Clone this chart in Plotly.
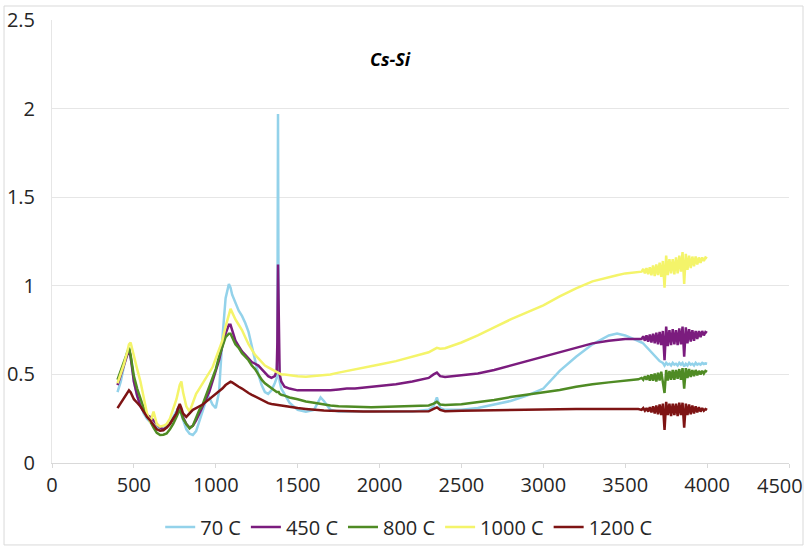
import plotly.graph_objects as go

# Wavenumber grid (cm-1)
wn_low = [400, 420, 440, 460, 470, 480, 490, 500, 520, 540, 560, 580, 600, 620, 640, 660, 680, 700, 720, 740,
          760, 770, 780, 790, 800, 820, 840, 860, 880, 900, 920, 940, 960, 980, 1000, 1020, 1040, 1060, 1080, 1090,
          1100, 1120, 1140, 1160, 1180, 1200, 1220, 1240, 1260, 1280, 1300, 1320, 1340, 1360, 1372, 1376, 1380, 1384, 1390, 1400]
wn_mid = [1420, 1450, 1500, 1550, 1600, 1640, 1660, 1700, 1750, 1800, 1850, 1900, 1950, 2000, 2100, 2200, 2300, 2330, 2350, 2370,
          2400, 2500, 2600, 2700, 2800, 2900, 3000, 3100, 3200, 3300, 3400, 3450, 3500, 3550, 3580]
wn_high = [3600, 3610, 3620, 3630, 3640, 3650, 3660, 3670, 3680, 3690, 3700, 3710, 3720, 3730, 3740, 3750, 3760, 3770, 3780, 3790,
           3800, 3810, 3820, 3830, 3840, 3850, 3860, 3870, 3880, 3890, 3900, 3910, 3920, 3930, 3940, 3950, 3960, 3970, 3980, 3990, 4000]
wn = wn_low + wn_mid + wn_high

s70 = [0.40, 0.46, 0.55, 0.63, 0.65, 0.60, 0.54, 0.46, 0.38, 0.33, 0.28, 0.25, 0.23, 0.22, 0.20, 0.195, 0.20, 0.21, 0.23, 0.26,
       0.29, 0.31, 0.30, 0.27, 0.24, 0.19, 0.165, 0.158, 0.18, 0.24, 0.30, 0.35, 0.37, 0.33, 0.31, 0.40, 0.70, 0.93, 1.01, 0.99,
       0.95, 0.90, 0.86, 0.83, 0.79, 0.74, 0.66, 0.58, 0.50, 0.44, 0.40, 0.39, 0.41, 0.45, 0.48, 0.60, 1.97, 0.60, 0.46, 0.42,
       0.39, 0.34, 0.30, 0.29, 0.30, 0.37, 0.35, 0.30, 0.29, 0.29, 0.29, 0.29, 0.29, 0.29, 0.29, 0.29, 0.30, 0.32, 0.37, 0.31,
       0.30, 0.30, 0.31, 0.33, 0.35, 0.38, 0.42, 0.52, 0.60, 0.67, 0.72, 0.73, 0.72, 0.70, 0.69,
       0.68, 0.675, 0.665, 0.655, 0.645, 0.63, 0.62, 0.61, 0.60, 0.59, 0.585, 0.575, 0.57, 0.565, 0.55, 0.565, 0.555, 0.56, 0.55, 0.565,
       0.555, 0.56, 0.55, 0.565, 0.555, 0.565, 0.545, 0.56, 0.55, 0.565, 0.555, 0.56, 0.55, 0.565, 0.555, 0.56, 0.555, 0.565, 0.558, 0.562, 0.56]

s450 = [0.44, 0.50, 0.56, 0.62, 0.64, 0.60, 0.53, 0.46, 0.38, 0.32, 0.29, 0.27, 0.26, 0.24, 0.22, 0.20, 0.19, 0.20, 0.22, 0.25,
        0.28, 0.31, 0.32, 0.29, 0.26, 0.22, 0.20, 0.21, 0.24, 0.28, 0.32, 0.35, 0.40, 0.46, 0.52, 0.58, 0.66, 0.73, 0.78, 0.78,
        0.75, 0.69, 0.66, 0.63, 0.61, 0.59, 0.57, 0.56, 0.55, 0.53, 0.51, 0.49, 0.48, 0.49, 0.52, 0.68, 1.12, 0.68, 0.50, 0.46,
        0.43, 0.42, 0.41, 0.41, 0.41, 0.41, 0.41, 0.41, 0.415, 0.42, 0.42, 0.425, 0.43, 0.435, 0.445, 0.46, 0.48, 0.50, 0.51, 0.49,
        0.485, 0.495, 0.505, 0.525, 0.55, 0.575, 0.60, 0.625, 0.65, 0.675, 0.69, 0.695, 0.70, 0.70, 0.70,
        0.70, 0.715, 0.69, 0.72, 0.685, 0.725, 0.68, 0.73, 0.675, 0.735, 0.67, 0.74, 0.665, 0.745, 0.58, 0.77, 0.66, 0.75, 0.665, 0.755,
        0.67, 0.75, 0.665, 0.76, 0.67, 0.77, 0.60, 0.765, 0.675, 0.755, 0.685, 0.75, 0.69, 0.745, 0.70, 0.745, 0.71, 0.745, 0.72, 0.74, 0.735]

s800 = [0.47, 0.52, 0.57, 0.63, 0.65, 0.61, 0.55, 0.49, 0.42, 0.36, 0.31, 0.27, 0.23, 0.20, 0.17, 0.158, 0.16, 0.167, 0.19, 0.22,
        0.26, 0.28, 0.30, 0.28, 0.25, 0.22, 0.195, 0.21, 0.25, 0.30, 0.33, 0.38, 0.43, 0.48, 0.53, 0.60, 0.66, 0.71, 0.73, 0.73,
        0.71, 0.67, 0.65, 0.62, 0.60, 0.58, 0.55, 0.53, 0.50, 0.47, 0.45, 0.435, 0.42, 0.41, 0.40, 0.40, 0.40, 0.40, 0.39, 0.385,
        0.38, 0.37, 0.36, 0.347, 0.34, 0.333, 0.33, 0.325, 0.32, 0.318, 0.316, 0.315, 0.315, 0.316, 0.318, 0.32, 0.325, 0.335, 0.345, 0.33,
        0.328, 0.332, 0.342, 0.355, 0.372, 0.385, 0.398, 0.412, 0.43, 0.445, 0.455, 0.46, 0.465, 0.47, 0.472,
        0.48, 0.47, 0.49, 0.47, 0.495, 0.465, 0.50, 0.465, 0.505, 0.46, 0.51, 0.465, 0.515, 0.46, 0.395, 0.525, 0.465, 0.52, 0.47, 0.525,
        0.47, 0.525, 0.475, 0.53, 0.47, 0.535, 0.42, 0.535, 0.48, 0.53, 0.485, 0.525, 0.49, 0.525, 0.495, 0.52, 0.50, 0.52, 0.505, 0.52, 0.515]

s1000 = [0.45, 0.50, 0.56, 0.63, 0.67, 0.68, 0.64, 0.60, 0.53, 0.46, 0.36, 0.28, 0.23, 0.29, 0.22, 0.205, 0.21, 0.22, 0.25, 0.30,
         0.36, 0.40, 0.44, 0.46, 0.40, 0.32, 0.29, 0.34, 0.39, 0.42, 0.45, 0.48, 0.51, 0.54, 0.59, 0.64, 0.69, 0.77, 0.84, 0.87,
         0.85, 0.81, 0.78, 0.75, 0.71, 0.67, 0.64, 0.61, 0.59, 0.57, 0.55, 0.54, 0.53, 0.52, 0.515, 0.515, 0.51, 0.51, 0.505, 0.50,
         0.50, 0.495, 0.49, 0.487, 0.49, 0.495, 0.497, 0.50, 0.51, 0.52, 0.53, 0.54, 0.55, 0.556, 0.575, 0.60, 0.625, 0.64, 0.65, 0.645,
         0.648, 0.68, 0.72, 0.765, 0.81, 0.85, 0.89, 0.94, 0.985, 1.025, 1.05, 1.06, 1.07, 1.075, 1.08,
         1.08, 1.095, 1.07, 1.10, 1.065, 1.105, 1.06, 1.115, 1.055, 1.12, 1.06, 1.13, 1.05, 1.14, 0.99, 1.17, 1.06, 1.15, 1.07, 1.15,
         1.065, 1.16, 1.07, 1.17, 1.08, 1.19, 1.01, 1.18, 1.09, 1.17, 1.10, 1.165, 1.11, 1.165, 1.12, 1.16, 1.13, 1.16, 1.14, 1.16, 1.155]

s1200 = [0.31, 0.34, 0.37, 0.40, 0.41, 0.40, 0.38, 0.36, 0.34, 0.32, 0.29, 0.26, 0.24, 0.215, 0.19, 0.182, 0.185, 0.20, 0.22, 0.25,
         0.28, 0.31, 0.333, 0.31, 0.28, 0.26, 0.28, 0.30, 0.31, 0.318, 0.33, 0.345, 0.36, 0.37, 0.385, 0.40, 0.42, 0.44, 0.455, 0.459,
         0.455, 0.44, 0.43, 0.42, 0.405, 0.395, 0.385, 0.375, 0.365, 0.355, 0.345, 0.338, 0.333, 0.33, 0.328, 0.327, 0.326, 0.325, 0.324, 0.322,
         0.318, 0.315, 0.31, 0.305, 0.30, 0.298, 0.296, 0.295, 0.293, 0.292, 0.291, 0.29, 0.29, 0.29, 0.29, 0.29, 0.292, 0.305, 0.314, 0.30,
         0.292, 0.295, 0.297, 0.299, 0.30, 0.302, 0.303, 0.304, 0.305, 0.305, 0.306, 0.306, 0.305, 0.305, 0.305,
         0.30, 0.31, 0.295, 0.31, 0.29, 0.315, 0.285, 0.32, 0.28, 0.325, 0.275, 0.33, 0.27, 0.335, 0.186, 0.345, 0.27, 0.335, 0.265, 0.335,
         0.27, 0.335, 0.265, 0.34, 0.27, 0.34, 0.20, 0.335, 0.27, 0.33, 0.275, 0.325, 0.28, 0.32, 0.285, 0.315, 0.29, 0.31, 0.295, 0.305, 0.30]

series_names = ["70 C", "450 C", "800 C", "1000 C", "1200 C"]
series_values = [s70, s450, s800, s1000, s1200]
series_colors = ["#93D2EA", "#7B1C7E", "#4F8B24", "#F4F46A", "#7E1414"]

x_ticks = [0, 500, 1000, 1500, 2000, 2500, 3000, 3500, 4000, 4500]
x_tick_labels = ["0", "500", "1000", "1500", "2000", "2500", "3000", "3500", "4000", ""]
last_x_label = "4500"
y_ticks = [0, 0.5, 1, 1.5, 2, 2.5]
y_tick_labels = ["0", "0.5", "1", "1.5", "2", "2.5"]

FONT = "Open Sans, Liberation Sans, sans-serif"

fig = go.Figure()
for name, vals, col in zip(series_names, series_values, series_colors):
    fig.add_trace(go.Scatter(x=wn, y=vals, mode="lines", name=name,
                             line=dict(color=col, width=2.5)))

fig.update_layout(
    width=806, height=549,
    margin=dict(l=52, r=17, t=20, b=86, autoexpand=False),
    paper_bgcolor="white", plot_bgcolor="white",
    font=dict(family=FONT, size=20, color="#262626"),
    showlegend=True,
    legend=dict(orientation="h", x=0.484, xanchor="center", yref="container", y=0.04, yanchor="middle",
                font=dict(size=20, color="#262626"), itemwidth=30, traceorder="normal",
                bgcolor="rgba(0,0,0,0)"),
    xaxis=dict(range=[0, 4500], tickmode="array", tickvals=x_ticks,
               ticktext=x_tick_labels, showgrid=False, zeroline=False,
               showline=True, linecolor="#d9d9d9", linewidth=1, automargin=False,
               ticks="outside", ticklen=4, tickcolor="#d9d9d9",
               ticklabelstandoff=0, tickfont=dict(size=20, color="#262626")),
    yaxis=dict(range=[0, 2.5], tickmode="array", tickvals=y_ticks, ticktext=y_tick_labels,
               showgrid=True, gridcolor="#e6e6e6", gridwidth=1, zeroline=False, automargin=False,
               showline=True, linecolor="#e6e6e6", ticks="", ticklabelstandoff=12,
               ticklabeloverflow="allow", tickfont=dict(size=20, color="#262626")),
    annotations=[
        dict(x=2067, y=2.28, xref="x", yref="y", text="<b><i>Cs-Si</i></b>",
             showarrow=False, font=dict(size=18, color="#000000")),
        dict(x=x_ticks[-1], y=0, xref="x", yref="paper", text=last_x_label, xanchor="right",
             xshift=16, yanchor="middle", yshift=-22, showarrow=False,
             font=dict(size=20, color="#262626")),
    ],
    shapes=[dict(type="rect", xref="paper", yref="paper", x0=-0.0651, x1=1.019, y0=-0.185, y1=1.0316,
                 line=dict(color="#d9d9d9", width=1), fillcolor="rgba(0,0,0,0)", layer="below")],
)

fig.write_html("out.html")
